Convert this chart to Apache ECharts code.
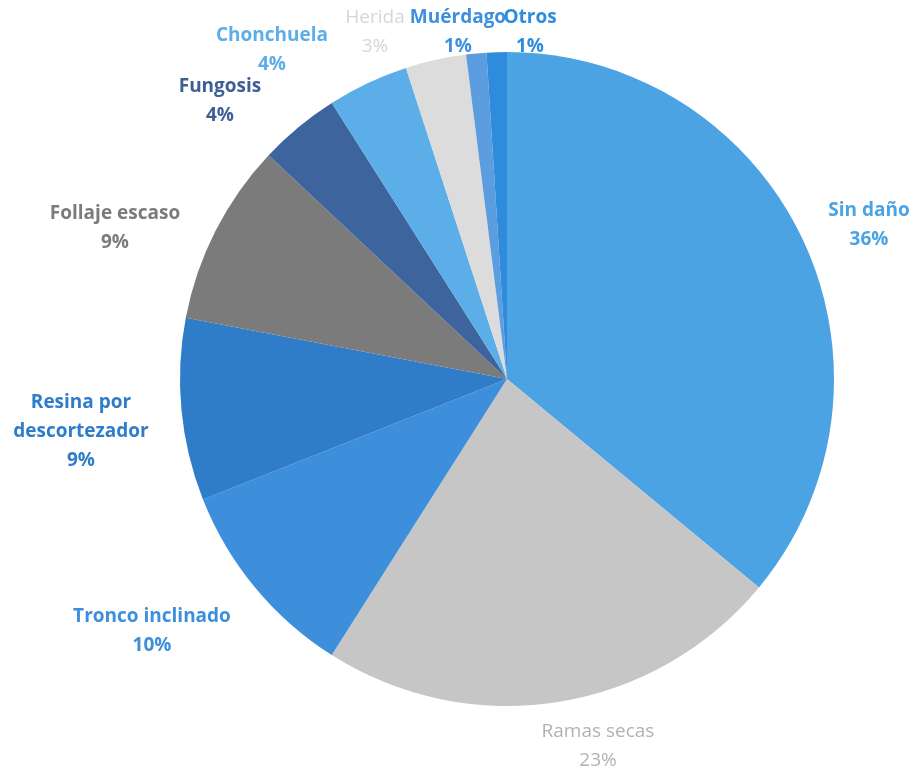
<!DOCTYPE html>
<html>
<head>
<meta charset="utf-8">
<script src="https://cdn.jsdelivr.net/npm/echarts@6/dist/echarts.min.js"></script>
<style>
  html, body { margin: 0; padding: 0; background: #ffffff; }
  #chart { width: 916px; height: 770px; }
</style>
</head>
<body>
<div id="chart"></div>
<script>
// Damage categories observed in the trees, clockwise from 12 o'clock
const categories = [
  'Sin daño', 'Ramas secas', 'Tronco inclinado', 'Resina por\ndescortezador',
  'Follaje escaso', 'Fungosis', 'Chonchuela', 'Herida', 'Muérdago', 'Otros'
];
// Share of trees per category (%)
const shares = [36, 23, 10, 9, 9, 4, 4, 3, 1, 1];

// Slice fills and matching label colours
const sliceColors = [
  '#4ba3e3', '#c6c6c6', '#3d8fdb', '#2f7cc8', '#7b7b7b',
  '#3e649e', '#5baee8', '#dcdcdc', '#5c9de0', '#2f8cdd'
];
const labelColors = [
  '#4ba3e3', '#b2b2b2', '#3d8fdb', '#2f7cc8', '#7b7b7b',
  '#3e5f95', '#5baee8', '#d6d6d6', '#3e8fe0', '#2f8cdd'
];
const labelWeights = [
  'bold', 'normal', 'bold', 'bold', 'bold',
  'bold', 'bold', 'normal', 'bold', 'bold'
];
// Where each label block is centred on the page
const labelSpots = [
  [869, 225], [598, 746], [152, 631], [81, 432], [115, 228],
  [220, 101], [272, 50], [375, 32], [458, 32], [530, 32]
];

const chart = echarts.init(document.getElementById('chart'), null, { renderer: 'canvas' });

chart.setOption({
  backgroundColor: '#ffffff',
  animation: false,
  series: [{
    type: 'pie',
    center: [507, 379],
    radius: [0, 327],
    startAngle: 90,
    clockwise: true,
    avoidLabelOverlap: false,
    label: {
      show: true,
      position: 'outside',
      fontFamily: '"Open Sans", Lato, sans-serif',
      fontSize: 19,
      lineHeight: 29,
      align: 'center',
      formatter: p => p.name + '\n' + p.value + '%'
    },
    labelLine: { show: false },
    labelLayout: p => ({
      x: labelSpots[p.dataIndex][0],
      y: labelSpots[p.dataIndex][1],
      align: 'center',
      verticalAlign: 'middle',
      hideOverlap: false
    }),
    itemStyle: { borderWidth: 0 },
    emphasis: { disabled: true },
    data: categories.map((name, i) => ({
      name: name,
      value: shares[i],
      itemStyle: { color: sliceColors[i] },
      label: { color: labelColors[i], fontWeight: labelWeights[i] }
    }))
  }]
});
</script>
</body>
</html>
